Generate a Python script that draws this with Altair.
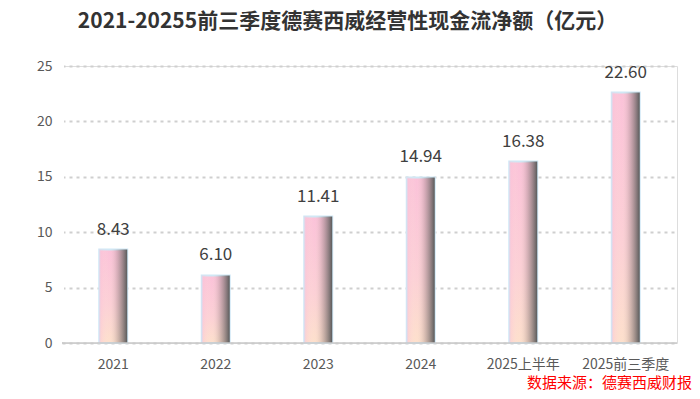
import altair as alt
import pandas as pd

categories = ["2021", "2022", "2023", "2024", "2025上半年", "2025前三季度"]
values = [8.43, 6.10, 11.41, 14.94, 16.38, 22.60]
labels = ["8.43", "6.10", "11.41", "14.94", "16.38", "22.60"]
y_ticks = [0, 5, 10, 15, 20, 25]

df = pd.DataFrame({"cat": categories, "val": values, "lab": labels})

FONT = "Noto Sans CJK SC"

x_enc = alt.X("cat:N", sort=categories, title=None,
              scale=alt.Scale(paddingInner=0.0, paddingOuter=0.0, align=0.5),
              axis=alt.Axis(labelAngle=0, labelFontSize=14, labelColor="#595959",
                            labelFont=FONT, labelPadding=14, ticks=False, grid=False,
                            domain=False))
y_enc = alt.Y("val:Q", title=None,
              scale=alt.Scale(domain=[0, 25], nice=False),
              axis=alt.Axis(values=y_ticks, labelFontSize=14, labelColor="#595959",
                            labelFont=FONT, labelPadding=10, ticks=False, domain=False,
                            grid=True, gridColor="#cfcfcf", gridDash=[3, 4], gridWidth=2))

base = alt.Chart(df)

vert = alt.Gradient(gradient="linear", x1=0, y1=0, x2=0, y2=1,
                    stops=[alt.GradientStop(color="#fbc2d9", offset=0),
                           alt.GradientStop(color="#fcd0d6", offset=0.6),
                           alt.GradientStop(color="#fde0cc", offset=1)])
horiz = alt.Gradient(gradient="linear", x1=0, y1=0, x2=1, y2=0,
                     stops=[alt.GradientStop(color="rgba(250,190,215,0.5)", offset=0),
                            alt.GradientStop(color="rgba(255,230,220,0.0)", offset=0.35),
                            alt.GradientStop(color="rgba(150,130,130,0.3)", offset=0.62),
                            alt.GradientStop(color="rgba(90,90,90,1.0)", offset=1)])

bars = base.mark_bar(size=28, color=vert, stroke="#cfe8f6", strokeWidth=2).encode(x=x_enc, y=y_enc)
shade = base.mark_bar(size=28, color=horiz).encode(x=x_enc, y=y_enc)
text = base.mark_text(dy=-20, fontSize=17, color="#404040", font=FONT,
                      fontWeight="normal").encode(x=x_enc, y=y_enc, text="lab:N")

cover = alt.Chart(pd.DataFrame({"c": [0]})).mark_rule(
    color="white", strokeWidth=4).encode(
    x=alt.value(0), y=alt.value(-8), y2=alt.value(276))

baseline = alt.Chart(pd.DataFrame({"z": [0]})).mark_rule(
    color="#c8c8c8", strokeWidth=1.5).encode(
    y=alt.Y("z:Q"), x=alt.value(0), x2=alt.value(615))

source = alt.Chart(pd.DataFrame({"t": ["数据来源：德赛西威财报"]})).mark_text(
    align="right", baseline="middle", fontSize=15, color="#ff0000", font=FONT,
    fontWeight=400).encode(x=alt.value(630), y=alt.value(317), text="t:N")

chart = alt.layer(bars, shade, cover, baseline, text, source).properties(
    width=615, height=277,
    title=alt.Title("2021-20255前三季度德赛西威经营性现金流净额（亿元）",
                    fontSize=21, font=FONT, fontWeight="bold", color="#333333",
                    anchor="middle", offset=24, dx=-22),
    autosize=alt.AutoSizeParams(type="none"),
    padding={"left": 54, "top": 58, "right": 15, "bottom": 48},
).configure_view(strokeWidth=0, stroke="transparent").configure(background="white")

chart.save("out.html", embed_options={"renderer": "svg", "actions": False})
